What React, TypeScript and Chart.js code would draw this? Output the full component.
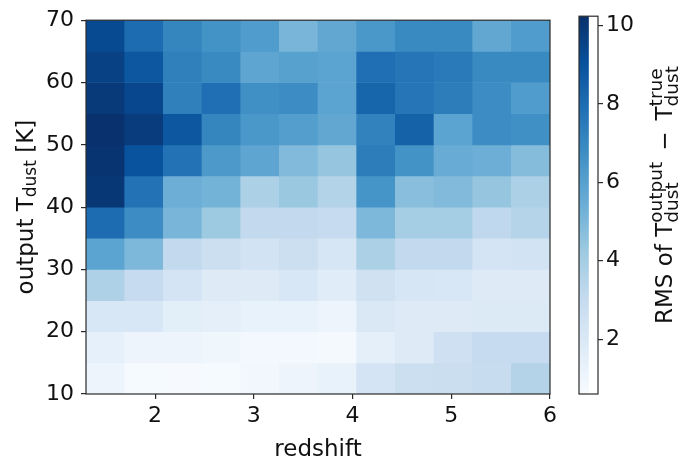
import React, { useEffect, useRef } from 'react';
import { Chart, registerables } from 'chart.js';

Chart.register(...registerables);

// ---- data ----
const redshiftEdges = [1.3, 1.6917, 2.0833, 2.475, 2.8667, 3.2583, 3.65, 4.0417, 4.4333, 4.825, 5.2167, 5.6083, 6.0];
const tDustCenters = [12.5, 17.5, 22.5, 27.5, 32.5, 37.5, 42.5, 47.5, 52.5, 57.5, 62.5, 67.5];

const rms10to15 = [1.1, 0.7, 0.65, 0.7, 0.9, 1.1, 1.3, 2.3, 2.7, 2.8, 2.95, 3.55];
const rms15to20 = [1.4, 1.1, 1.1, 1.0, 0.8, 0.8, 0.75, 1.5, 1.8, 2.6, 3.0, 3.0];
const rms20to25 = [2.1, 2.1, 1.6, 1.5, 1.3, 1.3, 1.1, 2.0, 1.8, 1.8, 1.9, 1.9];
const rms25to30 = [3.7, 3.0, 2.3, 1.8, 1.8, 2.1, 1.7, 2.5, 2.2, 2.1, 1.8, 1.8];
const rms30to35 = [5.9, 5.0, 3.1, 2.7, 2.4, 2.7, 2.2, 3.8, 3.1, 3.1, 2.3, 2.4];
const rms35to40 = [8.0, 6.8, 5.1, 4.2, 3.1, 3.1, 3.0, 5.0, 4.0, 4.0, 3.2, 3.5];
const rms40to45 = [10.0, 7.8, 5.4, 5.2, 3.8, 4.3, 3.6, 6.5, 4.7, 4.9, 4.4, 3.8];
const rms45to50 = [10.1, 9.0, 7.8, 6.3, 5.8, 4.9, 4.4, 7.4, 6.6, 5.5, 5.4, 4.8];
const rms50to55 = [10.2, 9.8, 8.8, 7.1, 6.4, 6.1, 5.7, 7.2, 8.4, 5.9, 6.8, 6.7];
const rms55to60 = [9.9, 9.4, 7.3, 7.9, 6.7, 6.8, 5.9, 8.3, 7.7, 7.4, 6.8, 6.2];
const rms60to65 = [9.6, 8.8, 7.3, 6.9, 5.8, 6.0, 5.9, 7.9, 7.7, 7.5, 6.9, 6.9];
const rms65to70 = [9.3, 8.0, 7.1, 6.6, 6.2, 5.1, 5.7, 6.4, 6.9, 6.9, 5.7, 6.2];

const rmsRows = [rms10to15, rms15to20, rms20to25, rms25to30, rms30to35, rms35to40,
  rms40to45, rms45to50, rms50to55, rms55to60, rms60to65, rms65to70];

const xTicks = [2, 3, 4, 5, 6];
const yTicks = [10, 20, 30, 40, 50, 60, 70];
const cbarTicks = [2, 4, 6, 8, 10];
const cbarMin = 0.6;
const cbarMax = 10.24;

// ---- styling ----
const FONT = 'DejaVu Sans';
const TEXT = '#111111';
const SPINE = '#2a2a2a';
const BLUES = ['#f7fbff', '#deebf7', '#c6dbef', '#9ecae1', '#6baed6', '#4292c6', '#2171b5', '#08519c', '#08306b'];

function hexToRgb(h: string) {
  return [parseInt(h.slice(1, 3), 16), parseInt(h.slice(3, 5), 16), parseInt(h.slice(5, 7), 16)];
}
const BLUES_RGB = BLUES.map(hexToRgb);

function bluesColor(v: number) {
  let t = (v - cbarMin) / (cbarMax - cbarMin);
  t = Math.max(0, Math.min(1, t));
  const s = t * 8;
  const i = Math.min(7, Math.floor(s));
  const f = s - i;
  const a = BLUES_RGB[i];
  const b = BLUES_RGB[i + 1];
  const c = a.map((x, k) => Math.round(x + (b[k] - x) * f));
  return `rgb(${c[0]},${c[1]},${c[2]})`;
}

const framePlugin = {
  id: 'frame',
  afterDatasetsDraw(chart: any) {
    const { ctx, chartArea } = chart;
    ctx.save();
    ctx.strokeStyle = SPINE;
    ctx.lineWidth = 1.2;
    ctx.strokeRect(chartArea.left, chartArea.top, chartArea.right - chartArea.left, chartArea.bottom - chartArea.top);
    ctx.restore();
  },
};

// a segment with "stack: true" is drawn at the same position as the following one (sup over sub)
type Seg = { text: string; size: number; dy: number; stack?: boolean; gap?: number };

function drawRotated(ctx: CanvasRenderingContext2D, segs: Seg[], x: number, yCenter: number) {
  ctx.save();
  const widths: number[] = [];
  segs.forEach((s) => {
    ctx.font = `${s.size}px "${FONT}"`;
    widths.push(ctx.measureText(s.text).width + (s.gap || 0));
  });
  let total = 0;
  let i = 0;
  while (i < segs.length) {
    if (segs[i].stack) {
      total += Math.max(widths[i], widths[i + 1]);
      i += 2;
    } else {
      total += widths[i];
      i += 1;
    }
  }
  ctx.translate(x, yCenter);
  ctx.rotate(-Math.PI / 2);
  ctx.fillStyle = TEXT;
  ctx.textBaseline = 'alphabetic';
  ctx.textAlign = 'left';
  let pos = -total / 2;
  i = 0;
  while (i < segs.length) {
    const s = segs[i];
    ctx.font = `${s.size}px "${FONT}"`;
    if (s.stack) {
      const n = segs[i + 1];
      ctx.fillText(s.text, pos, s.dy);
      ctx.font = `${n.size}px "${FONT}"`;
      ctx.fillText(n.text, pos, n.dy);
      pos += Math.max(widths[i], widths[i + 1]);
      i += 2;
    } else {
      ctx.fillText(s.text, pos + (s.gap || 0) / 2, s.dy);
      pos += widths[i];
      i += 1;
    }
  }
  ctx.restore();
}

const mainLabelsPlugin = {
  id: 'mainLabels',
  afterDraw(chart: any) {
    const { ctx, chartArea } = chart;
    ctx.save();
    ctx.font = `23px "${FONT}"`;
    ctx.fillStyle = TEXT;
    ctx.textAlign = 'center';
    ctx.textBaseline = 'alphabetic';
    ctx.fillText('redshift', (chartArea.left + chartArea.right) / 2, 456);
    ctx.restore();
    drawRotated(ctx, [
      { text: 'output T', size: 23, dy: 0 },
      { text: 'dust', size: 17, dy: 2.5 },
      { text: ' [K]', size: 23, dy: 0 },
    ], 33, (chartArea.top + chartArea.bottom) / 2);
  },
};

const cbarLabelPlugin = {
  id: 'cbarLabel',
  afterDraw(chart: any) {
    const { ctx } = chart;
    drawRotated(ctx, [
      { text: 'RMS of T', size: 23, dy: 0 },
      { text: 'output', size: 18.5, dy: -10, stack: true },
      { text: 'dust', size: 18.5, dy: 6 },
      { text: '\u2212', size: 23, dy: 0, gap: 22 },
      { text: 'T', size: 23, dy: 0 },
      { text: 'true', size: 18.5, dy: -10, stack: true },
      { text: 'dust', size: 18.5, dy: 6 },
    ], 672, 195);
  },
};

export default function App() {
  const mainRef = useRef<HTMLCanvasElement>(null);
  const cbarRef = useRef<HTMLCanvasElement>(null);

  useEffect(() => {
    const cells: any[] = [];
    rmsRows.forEach((row, j) => {
      row.forEach((v, i) => {
        cells.push({ x: [redshiftEdges[i], redshiftEdges[i + 1]], y: tDustCenters[j], v });
      });
    });

    const tickFont = { family: FONT, size: 22 };

    const main = new Chart(mainRef.current as HTMLCanvasElement, {
      type: 'bar',
      data: {
        datasets: [{
          data: cells,
          backgroundColor: (c: any) => bluesColor(c.raw ? c.raw.v : 0),
          borderWidth: 0,
          barPercentage: 1,
          categoryPercentage: 1,
        }],
      },
      options: {
        indexAxis: 'y',
        animation: false,
        responsive: false,
        events: [],
        layout: { padding: { left: 0, right: 131, top: 16, bottom: 0 } },
        plugins: { legend: { display: false }, tooltip: { enabled: false } },
        scales: {
          x: {
            type: 'linear',
            min: 1.3,
            max: 6,
            afterBuildTicks: (a: any) => { a.ticks = xTicks.map((value) => ({ value })); },
            afterFit: (a: any) => { a.height = 67; },
            grid: { display: true, drawOnChartArea: false, drawTicks: true, tickLength: 5, color: SPINE, lineWidth: 1.2 },
            border: { display: false },
            ticks: { font: tickFont, color: TEXT, padding: 4, maxRotation: 0, autoSkip: false },
          },
          y: {
            type: 'linear',
            min: 10,
            max: 70,
            offset: false,
            afterBuildTicks: (a: any) => { a.ticks = yTicks.map((value) => ({ value })); },
            afterFit: (a: any) => { a.width = 86; },
            grid: { display: true, offset: false, drawOnChartArea: false, drawTicks: true, tickLength: 5, color: SPINE, lineWidth: 1.2 },
            border: { display: false },
            ticks: { font: tickFont, color: TEXT, padding: 7, autoSkip: false },
          },
        },
      } as any,
      plugins: [framePlugin, mainLabelsPlugin],
    });

    const cbar = new Chart(cbarRef.current as HTMLCanvasElement, {
      type: 'bar',
      data: {
        labels: ['cbar'],
        datasets: [{
          data: [[cbarMin, cbarMax]],
          backgroundColor: (c: any) => {
            const area = c.chart.chartArea;
            if (!area) return BLUES[4];
            const g = c.chart.ctx.createLinearGradient(0, area.bottom, 0, area.top);
            BLUES.forEach((col, k) => g.addColorStop(k / 8, col));
            return g;
          },
          borderWidth: 0,
          barPercentage: 1,
          categoryPercentage: 1,
        }],
      },
      options: {
        animation: false,
        responsive: false,
        events: [],
        layout: { padding: { left: 579, right: 43, top: 16, bottom: 67 } },
        plugins: { legend: { display: false }, tooltip: { enabled: false } },
        scales: {
          x: { display: false, offset: false },
          y: {
            type: 'linear',
            position: 'right',
            min: cbarMin,
            max: cbarMax,
            afterBuildTicks: (a: any) => { a.ticks = cbarTicks.map((value) => ({ value })); },
            afterFit: (a: any) => { a.width = 40; },
            grid: { display: true, drawOnChartArea: false, drawTicks: true, tickLength: 5, color: SPINE, lineWidth: 1.2 },
            border: { display: false },
            ticks: { font: tickFont, color: TEXT, padding: 3, autoSkip: false },
          },
        },
      } as any,
      plugins: [framePlugin, cbarLabelPlugin],
    });

    return () => {
      main.destroy();
      cbar.destroy();
    };
  }, []);

  return (
    <div style={{ position: 'absolute', left: 0, top: 0, width: 681, height: 461, background: '#ffffff' }}>
      <canvas ref={mainRef} width={681} height={461} style={{ position: 'absolute', left: 0, top: 0, width: 681, height: 461 }} />
      <canvas ref={cbarRef} width={681} height={461} style={{ position: 'absolute', left: 0, top: 0, width: 681, height: 461 }} />
    </div>
  );
}
